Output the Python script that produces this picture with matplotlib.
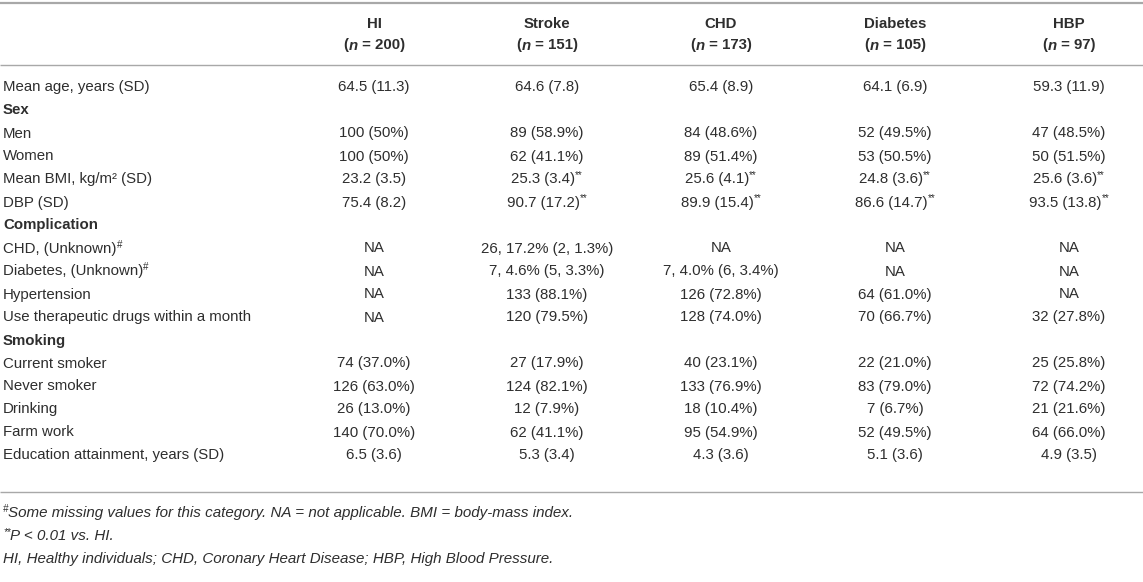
import matplotlib
matplotlib.use("Agg")
import matplotlib.pyplot as plt

plt.rcParams['font.family'] = ['Liberation Sans', 'DejaVu Sans']

# table content
groups = ["HI", "Stroke", "CHD", "Diabetes", "HBP"]
group_n = ["200", "151", "173", "105", "97"]

row_labels = [
    "Mean age, years (SD)", "Sex", "Men", "Women", "Mean BMI, kg/m² (SD)", "DBP (SD)",
    "Complication", "CHD, (Unknown)#", "Diabetes, (Unknown)#", "Hypertension",
    "Use therapeutic drugs within a month", "Smoking", "Current smoker", "Never smoker",
    "Drinking", "Farm work", "Education attainment, years (SD)",
]
section_rows = ["Sex", "Complication", "Smoking"]

hi_vals = ["64.5 (11.3)", "", "100 (50%)", "100 (50%)", "23.2 (3.5)", "75.4 (8.2)",
           "", "NA", "NA", "NA", "NA", "", "74 (37.0%)", "126 (63.0%)",
           "26 (13.0%)", "140 (70.0%)", "6.5 (3.6)"]
stroke_vals = ["64.6 (7.8)", "", "89 (58.9%)", "62 (41.1%)", "25.3 (3.4)**", "90.7 (17.2)**",
               "", "26, 17.2% (2, 1.3%)", "7, 4.6% (5, 3.3%)", "133 (88.1%)", "120 (79.5%)", "",
               "27 (17.9%)", "124 (82.1%)", "12 (7.9%)", "62 (41.1%)", "5.3 (3.4)"]
chd_vals = ["65.4 (8.9)", "", "84 (48.6%)", "89 (51.4%)", "25.6 (4.1)**", "89.9 (15.4)**",
            "", "NA", "7, 4.0% (6, 3.4%)", "126 (72.8%)", "128 (74.0%)", "",
            "40 (23.1%)", "133 (76.9%)", "18 (10.4%)", "95 (54.9%)", "4.3 (3.6)"]
diabetes_vals = ["64.1 (6.9)", "", "52 (49.5%)", "53 (50.5%)", "24.8 (3.6)**", "86.6 (14.7)**",
                 "", "NA", "NA", "64 (61.0%)", "70 (66.7%)", "",
                 "22 (21.0%)", "83 (79.0%)", "7 (6.7%)", "52 (49.5%)", "5.1 (3.6)"]
hbp_vals = ["59.3 (11.9)", "", "47 (48.5%)", "50 (51.5%)", "25.6 (3.6)**", "93.5 (13.8)**",
            "", "NA", "NA", "NA", "32 (27.8%)", "",
            "25 (25.8%)", "72 (74.2%)", "21 (21.6%)", "64 (66.0%)", "4.9 (3.5)"]
columns = [hi_vals, stroke_vals, chd_vals, diabetes_vals, hbp_vals]

footnotes = [
    ("#", "Some missing values for this category. NA = not applicable. BMI = body-mass index."),
    ("**", "P < 0.01 vs. HI."),
    ("", "HI, Healthy individuals; CHD, Coronary Heart Disease; HBP, High Blood Pressure."),
]

TXT = '#2e2e2e'
RULE = '#a8a8a8'
FS = 10.8
NOTE_FS = 10.9
SUP = 7

fig = plt.figure(figsize=(11.43, 5.82), dpi=100)
ax = fig.add_axes([0, 0, 1, 1])
ax.set_xlim(0, 1143)
ax.set_ylim(582, 0)
ax.axis('off')
renderer = fig.canvas.get_renderer()


def draw_runs(x, y, runs, ha='left', size=FS):
    # runs: list of (text, props); superscripts carry 'sup': True
    items = []
    for s, props in runs:
        p = dict(props)
        sup = p.pop('sup', False)
        t = ax.text(0, y - (5 if sup else 0), s, va='baseline', ha='left', color=TXT,
                    fontsize=SUP if sup else size, **p)
        w = t.get_window_extent(renderer).width
        items.append((t, w))
    total = sum(w for _, w in items)
    cx = x - total / 2 if ha == 'center' else x
    for t, w in items:
        t.set_x(cx)
        cx += w


def split_sup(s, marks=('**', '#')):
    for m in marks:
        if s.endswith(m):
            return s[:-len(m)], m
    return s, ''


col_x = [374, 547, 721, 895, 1069]
row_y0 = 91.5
row_dy = 23.0

# rules
ax.plot([0, 1143], [2.5, 2.5], color=RULE, lw=1.6, solid_capstyle='butt')
ax.plot([0, 1143], [64.5, 64.5], color=RULE, lw=1.0, solid_capstyle='butt')
ax.plot([0, 1143], [491.5, 491.5], color=RULE, lw=1.0, solid_capstyle='butt')

# header
for x, g, n in zip(col_x, groups, group_n):
    draw_runs(x, 28.5, [(g, {'fontweight': 'bold'})], ha='center')
    draw_runs(x, 49.5, [("(", {'fontweight': 'bold'}),
                        ("n", {'fontweight': 'bold', 'fontstyle': 'italic'}),
                        (" = " + n + ")", {'fontweight': 'bold'})], ha='center')

# body
for i, label in enumerate(row_labels):
    y = row_y0 + i * row_dy
    base, mark = split_sup(label)
    if label in section_rows:
        draw_runs(3, y, [(base, {'fontweight': 'bold'})])
    else:
        runs = [(base, {})]
        if mark:
            runs.append((mark, {'sup': True}))
        draw_runs(3, y, runs)
    for x, vals in zip(col_x, columns):
        v = vals[i]
        if not v:
            continue
        base, mark = split_sup(v)
        runs = [(base, {})]
        if mark:
            runs.append((mark, {'sup': True}))
        draw_runs(x, y, runs, ha='center')

# footnotes
for j, (mark, note) in enumerate(footnotes):
    y = 517 + j * 23
    runs = []
    if mark:
        runs.append((mark, {'sup': True, 'fontstyle': 'italic'}))
    runs.append((note, {'fontstyle': 'italic'}))
    draw_runs(3, y, runs, size=NOTE_FS)

fig.savefig("out.png", dpi=100)
